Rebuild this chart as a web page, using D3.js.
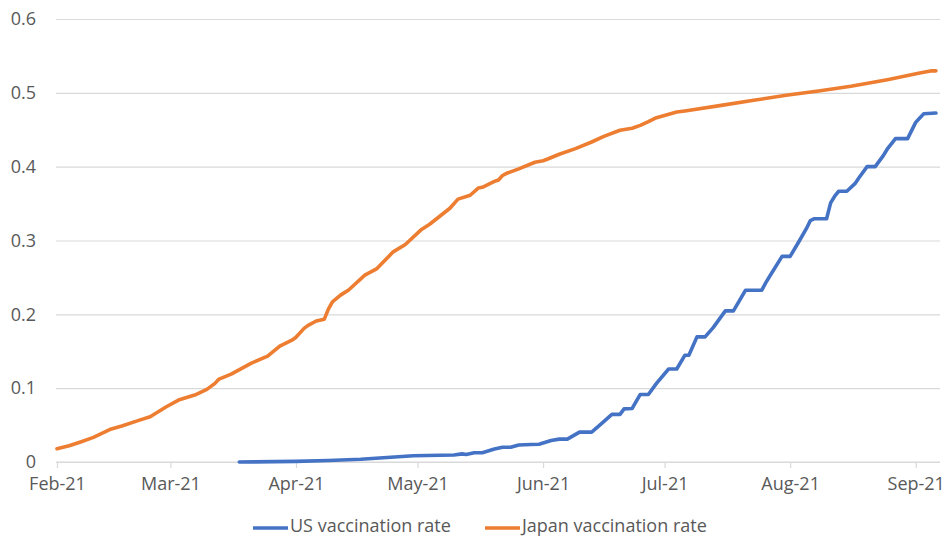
<!DOCTYPE html>
<html>
<head>
<meta charset="utf-8">
<script src="https://cdn.jsdelivr.net/npm/d3@7"></script>
<style>
  html, body { margin: 0; padding: 0; background: #ffffff; }
  svg { display: block; }
  text { font-family: "Open Sans", "DejaVu Sans", sans-serif; fill: #595959; }
</style>
</head>
<body>
<svg id="chart" width="947" height="537"></svg>
<script>
// Vaccination rate series (share of population), one value per listed date
const usDates = ["2021-03-18","2021-04-01","2021-04-09","2021-04-17","2021-04-30","2021-05-10","2021-05-12","2021-05-13","2021-05-15","2021-05-17","2021-05-20","2021-05-22","2021-05-24","2021-05-26","2021-05-29","2021-05-31","2021-06-03","2021-06-05","2021-06-07","2021-06-10","2021-06-13","2021-06-15","2021-06-18","2021-06-20","2021-06-21","2021-06-23","2021-06-24","2021-06-25","2021-06-27","2021-06-29","2021-07-02","2021-07-04","2021-07-06","2021-07-07","2021-07-09","2021-07-11","2021-07-13","2021-07-16","2021-07-18","2021-07-21","2021-07-25","2021-07-26","2021-07-27","2021-07-30","2021-08-01","2021-08-03","2021-08-05","2021-08-06","2021-08-07","2021-08-10","2021-08-11","2021-08-12","2021-08-13","2021-08-15","2021-08-17","2021-08-18","2021-08-20","2021-08-22","2021-08-24","2021-08-25","2021-08-26","2021-08-27","2021-08-30","2021-09-01","2021-09-02","2021-09-03","2021-09-06"];
const usRate = [0.0,0.0008,0.002,0.0037,0.0085,0.0095,0.011,0.0102,0.0125,0.0125,0.0175,0.020,0.020,0.023,0.0238,0.024,0.029,0.031,0.031,0.0405,0.0405,0.050,0.0645,0.0645,0.072,0.0725,0.082,0.0915,0.0915,0.1065,0.126,0.126,0.1445,0.1445,0.1695,0.1695,0.182,0.2047,0.2047,0.2327,0.2327,0.243,0.252,0.2785,0.2785,0.297,0.316,0.327,0.3295,0.3295,0.351,0.36,0.3667,0.3667,0.377,0.385,0.40,0.40,0.415,0.424,0.431,0.438,0.438,0.46,0.466,0.4716,0.4726];

const japanDates = ["2021-02-01","2021-02-04","2021-02-07","2021-02-10","2021-02-14","2021-02-17","2021-02-21","2021-02-24","2021-02-28","2021-03-03","2021-03-07","2021-03-10","2021-03-12","2021-03-13","2021-03-16","2021-03-21","2021-03-25","2021-03-28","2021-03-31","2021-04-01","2021-04-03","2021-04-04","2021-04-06","2021-04-08","2021-04-09","2021-04-10","2021-04-12","2021-04-14","2021-04-18","2021-04-21","2021-04-25","2021-04-28","2021-05-02","2021-05-04","2021-05-09","2021-05-11","2021-05-14","2021-05-16","2021-05-17","2021-05-20","2021-05-21","2021-05-22","2021-05-23","2021-05-26","2021-05-30","2021-06-01","2021-06-02","2021-06-05","2021-06-09","2021-06-13","2021-06-16","2021-06-20","2021-06-23","2021-06-25","2021-06-27","2021-06-29","2021-07-04","2021-07-06","2021-07-15","2021-07-23","2021-07-31","2021-08-08","2021-08-16","2021-08-25","2021-09-02","2021-09-05","2021-09-06"];
const japanRate = [0.018,0.022,0.0275,0.0334,0.044,0.0487,0.056,0.0613,0.0748,0.0839,0.0907,0.0983,0.1065,0.1123,0.119,0.134,0.1434,0.157,0.165,0.169,0.181,0.185,0.191,0.1935,0.207,0.217,0.226,0.233,0.253,0.262,0.2846,0.2946,0.315,0.322,0.3437,0.356,0.3613,0.371,0.372,0.380,0.382,0.388,0.391,0.397,0.406,0.408,0.41,0.4168,0.4244,0.4334,0.441,0.4493,0.452,0.456,0.461,0.4664,0.474,0.4755,0.483,0.4899,0.4966,0.5025,0.5088,0.5178,0.5268,0.5298,0.5298];

const monthTicks = ["2021-02-01","2021-03-01","2021-04-01","2021-05-01","2021-06-01","2021-07-01","2021-08-01","2021-09-01"];
const monthLabels = ["Feb-21","Mar-21","Apr-21","May-21","Jun-21","Jul-21","Aug-21","Sep-21"];
const rateTicks = [0, 0.1, 0.2, 0.3, 0.4, 0.5, 0.6];

const seriesNames = ["US vaccination rate", "Japan vaccination rate"];
const seriesColors = ["#4472C4", "#ED7D31"];

const parse = d3.utcParse("%Y-%m-%d");
const svg = d3.select("#chart");

const plot = { left: 57, right: 940, top: 19, bottom: 462 };
const fontSize = 18;

const x = d3.scaleUtc()
  .domain([parse("2021-02-01"), parse("2021-09-07")])
  .range([plot.left, plot.right]);
const y = d3.scaleLinear()
  .domain([0, 0.6])
  .range([plot.bottom, plot.top]);

// horizontal gridlines with rate labels
const yAxis = d3.axisLeft(y)
  .tickValues(rateTicks)
  .tickSize(-(plot.right - plot.left + 1))
  .tickPadding(20)
  .tickFormat(d => d === 0 ? "0" : d.toFixed(1));
const gy = svg.append("g")
  .attr("transform", `translate(${plot.left - 1},0)`)
  .call(yAxis);
gy.select(".domain").remove();
gy.selectAll(".tick line").attr("stroke", "#d9d9d9").attr("stroke-width", 1.2);
gy.selectAll(".tick text")
  .attr("font-size", fontSize)
  .style("fill", "#595959");

// date axis with month ticks
const tickDates = monthTicks.map(parse);
const xAxis = d3.axisBottom(x)
  .tickValues(tickDates)
  .tickSize(6)
  .tickPadding(9)
  .tickFormat((d, i) => monthLabels[i]);
const gx = svg.append("g")
  .attr("transform", `translate(0,${plot.bottom})`)
  .call(xAxis);
gx.select(".domain").attr("stroke", "#d9d9d9").attr("stroke-width", 1.2)
  .attr("d", `M${plot.left - 1},0H${plot.right}`);
gx.selectAll(".tick line").attr("stroke", "#d9d9d9").attr("stroke-width", 1.2);
gx.selectAll(".tick text")
  .attr("font-size", fontSize)
  .style("fill", "#595959");

// series lines
const line = d3.line()
  .x(d => x(d.date))
  .y(d => y(d.value));

const series = [
  usDates.map((d, i) => ({ date: parse(d), value: usRate[i] })),
  japanDates.map((d, i) => ({ date: parse(d), value: japanRate[i] }))
];

series.forEach((data, i) => {
  svg.append("path")
    .datum(data)
    .attr("fill", "none")
    .attr("stroke", seriesColors[i])
    .attr("stroke-width", 3.6)
    .attr("stroke-linejoin", "round")
    .attr("stroke-linecap", "round")
    .attr("d", line);
});

// legend
const legendItems = [{ x: 253 }, { x: 485 }];
const legend = svg.append("g").attr("transform", "translate(0,528)");
legendItems.forEach((item, i) => {
  legend.append("line")
    .attr("x1", item.x).attr("x2", item.x + 35)
    .attr("y1", 0).attr("y2", 0)
    .attr("stroke", seriesColors[i])
    .attr("stroke-width", 3.6);
  legend.append("text")
    .attr("x", item.x + 37)
    .attr("y", 4)
    .attr("font-size", fontSize)
    .text(seriesNames[i]);
});
</script>
</body>
</html>
